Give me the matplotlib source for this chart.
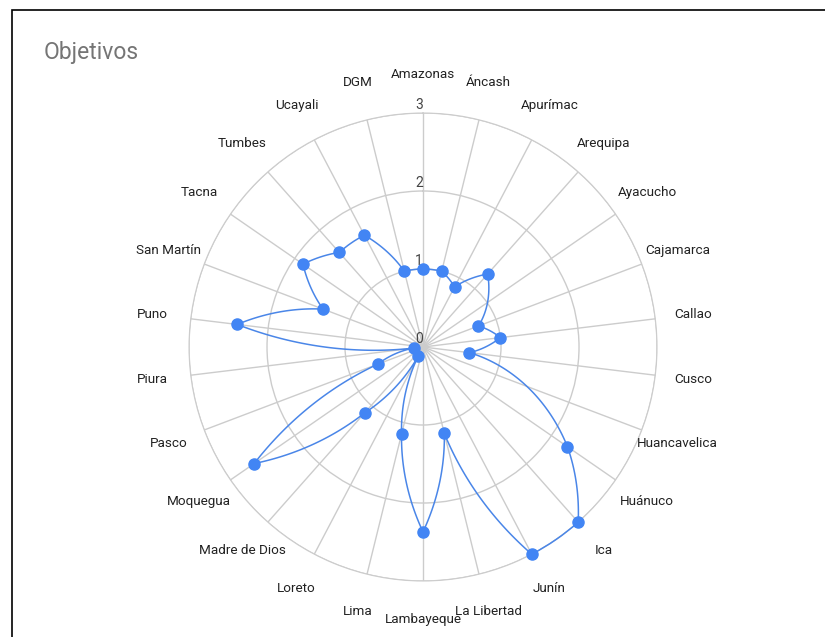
import matplotlib.pyplot as plt
from matplotlib.patches import Rectangle
import numpy as np

plt.rcParams['font.family'] = ['Roboto', 'DejaVu Sans']

categories = ['Amazonas', 'Áncash', 'Apurímac', 'Arequipa', 'Ayacucho', 'Cajamarca',
              'Callao', 'Cusco', 'Huancavelica', 'Huánuco', 'Ica', 'Junín',
              'La Libertad', 'Lambayeque', 'Lima', 'Loreto', 'Madre de Dios',
              'Moquegua', 'Pasco', 'Piura', 'Puno', 'San Martín', 'Tacna',
              'Tumbes', 'Ucayali', 'DGM']
# None = no value for that region (line skips it)
values = [1.0, 1.0, 0.87, 1.25, None, 0.76,
          1.0, 0.6, None, 2.25, 3.0, 3.0,
          1.14, 2.37, 1.15, 0.13, 1.13,
          2.63, 0.62, 0.12, 2.4, 1.37, 1.87,
          1.62, 1.62, 1.0]
r_ticks = [0, 1, 2, 3]

fig = plt.figure(figsize=(8.25, 6.37), dpi=100)
ax = fig.add_axes([0.2291, 0.0879, 0.5673, 0.7347], projection='polar')
ax.set_theta_zero_location('N')
ax.set_theta_direction(-1)

angles = np.arange(len(categories)) * 2 * np.pi / len(categories)
th = [a for a, v in zip(angles, values) if v is not None]
rr = [v for v in values if v is not None]
th_closed = th + [th[0] + 2 * np.pi]
rr_closed = rr + [rr[0]]

line, = ax.plot(th_closed, rr_closed, color='#4a86e8', lw=1.1, zorder=3, clip_on=False)
# let the polar transform draw each segment as a curve in (theta, r)
line.get_path()._interpolation_steps = 80
ax.plot(th, rr, 'o', color='#4285f4', ms=8, zorder=4, clip_on=False)

ax.set_ylim(0, 3)
ax.set_yticks(r_ticks[1:])
ax.set_yticklabels([])
ax.set_xticks(angles)
ax.set_xticklabels([])
ax.grid(True, color='#cccccc', lw=1)
ax.spines['polar'].set_color('#cccccc')
ax.tick_params(length=0)

for t in r_ticks:
    ax.annotate(str(t), (0, t), xytext=(-3, 6), textcoords='offset points',
                ha='center', va='center', fontsize=10, color='#444444')

for a, lab in zip(angles, categories):
    ax.text(a, 3.49, lab, ha='center', va='center', fontsize=9.7, color='#222222')

fig.text(44 / 825, 1 - 52 / 637, 'Objetivos', fontsize=16.5, color='#757575',
         ha='left', va='center')
fig.patches.append(Rectangle((12 / 825, -0.1), 1.2, 1.1 - 10 / 637,
                             transform=fig.transFigure, fill=False,
                             edgecolor='black', lw=1.2))

plt.savefig('out.png', dpi=100)
